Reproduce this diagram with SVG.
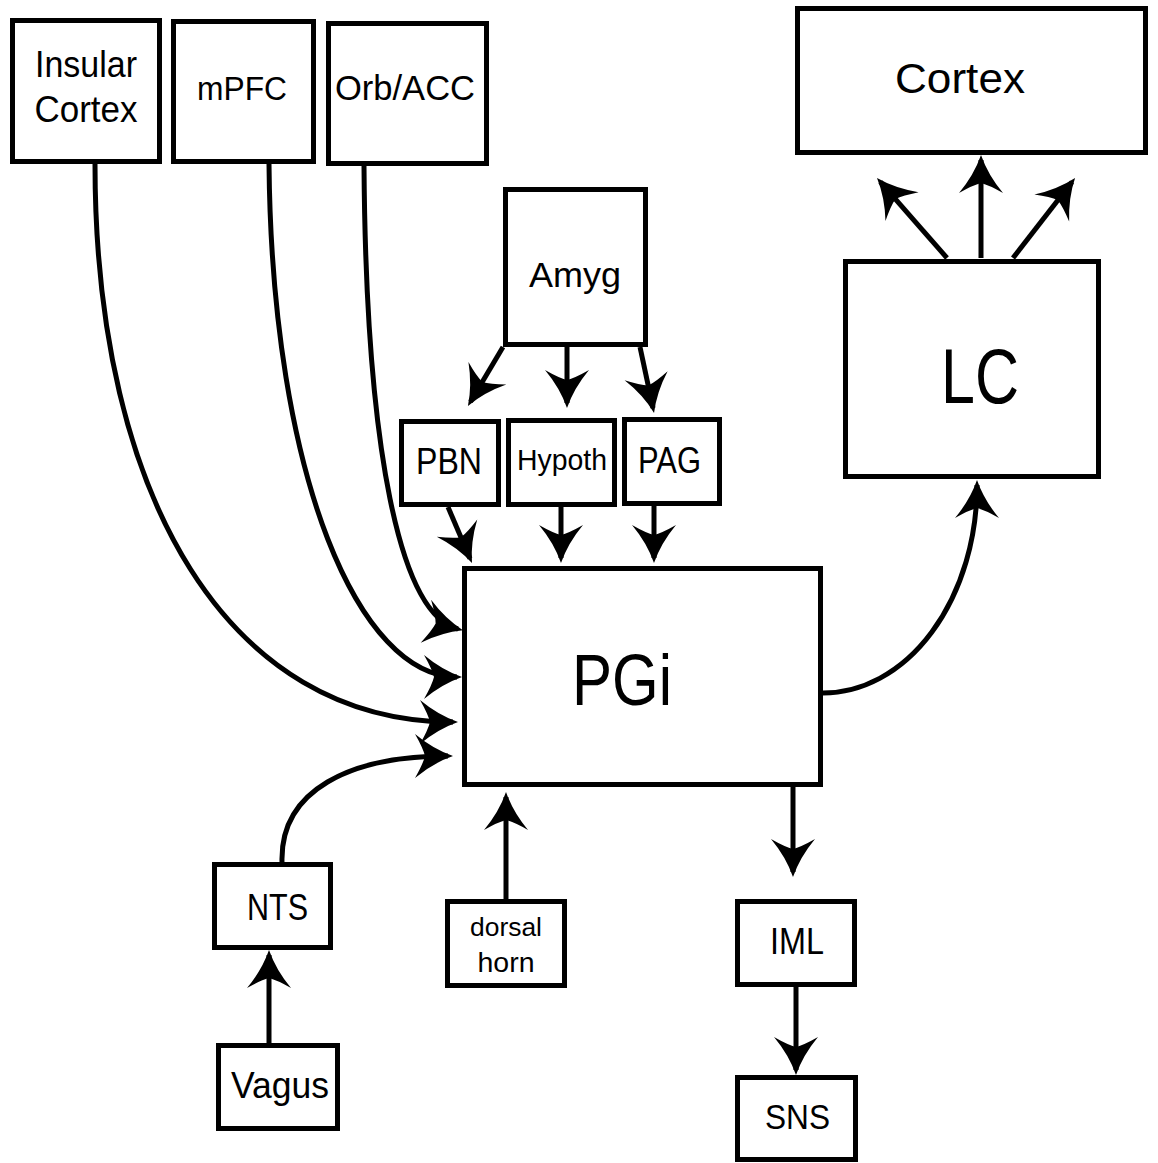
<svg xmlns="http://www.w3.org/2000/svg" width="1158" height="1163" viewBox="0 0 1158 1163">
<style>
.box{fill:#fff;stroke:#000;stroke-width:5}
.lbl{font-family:"Liberation Sans",Arial,sans-serif;fill:#000;text-anchor:middle}
.cn{fill:none;stroke:#000;stroke-width:5;marker-end:url(#ah)}
</style>
<defs>
<marker id="ah" markerUnits="userSpaceOnUse" markerWidth="50" markerHeight="50" viewBox="0 -25 50 50" refX="40" refY="0" orient="auto" overflow="visible">
<path d="M45,0 Q25,-7 7,-22 Q15,-8 17,0 Q15,8 7,22 Q25,7 45,0 Z" fill="#000"/>
</marker>
</defs>
<rect width="1158" height="1163" fill="#fff"/>
<g id="connectors">
<path class="cn" d="M95,164 C95,500 230,722 453,722"/>
<path class="cn" d="M269,164 C272,480 360,677 457,677"/>
<path class="cn" d="M364,166 C366,450 400,615 458,629"/>
<path class="cn" d="M282,862 C280,790 350,756 448,756"/>
<path class="cn" d="M823,693 A154,208 0 0 0 977,485"/>
<path class="cn" d="M503,347 L470.5,401.7"/>
<path class="cn" d="M567,347 L567,403"/>
<path class="cn" d="M640,347 L653,408"/>
<path class="cn" d="M448,507 L470,558.4"/>
<path class="cn" d="M561,507 L561,558"/>
<path class="cn" d="M654,506 L654,558"/>
<path class="cn" d="M981,258 L981,160"/>
<path class="cn" d="M947,258 L880.3,181.8"/>
<path class="cn" d="M1013,258 L1072,182"/>
<path class="cn" d="M506,899 L506,797"/>
<path class="cn" d="M793,787 L793,872"/>
<path class="cn" d="M796,987 L796,1070"/>
<path class="cn" d="M269,1043 L269,955"/>
</g>
<g id="insular"><rect class="box" x="12.5" y="20.5" width="147" height="141"/><text class="lbl" x="86" y="77" font-size="37" textLength="102" lengthAdjust="spacingAndGlyphs">Insular</text><text class="lbl" x="86" y="122" font-size="37" textLength="103" lengthAdjust="spacingAndGlyphs">Cortex</text></g>
<g id="mpfc"><rect class="box" x="173.5" y="21.5" width="140" height="140"/><text class="lbl" x="242" y="100" font-size="33" textLength="90" lengthAdjust="spacingAndGlyphs">mPFC</text></g>
<g id="orbacc"><rect class="box" x="328.5" y="23.5" width="158" height="140"/><text class="lbl" x="405" y="100" font-size="35" textLength="140" lengthAdjust="spacingAndGlyphs">Orb/ACC</text></g>
<g id="cortex"><rect class="box" x="797.5" y="8.5" width="348" height="144"/><text class="lbl" x="960" y="93" font-size="43" textLength="130" lengthAdjust="spacingAndGlyphs">Cortex</text></g>
<g id="amyg"><rect class="box" x="505.5" y="189.5" width="140" height="155"/><text class="lbl" x="575" y="287" font-size="35" textLength="92" lengthAdjust="spacingAndGlyphs">Amyg</text></g>
<g id="lc"><rect class="box" x="845.5" y="261.5" width="253" height="215"/><text class="lbl" x="980" y="403" font-size="77" textLength="78" lengthAdjust="spacingAndGlyphs">LC</text></g>
<g id="pbn"><rect class="box" x="401.5" y="421.5" width="97" height="83"/><text class="lbl" x="449" y="474" font-size="36" textLength="66" lengthAdjust="spacingAndGlyphs">PBN</text></g>
<g id="hypoth"><rect class="box" x="508.5" y="420.5" width="106" height="84"/><text class="lbl" x="562" y="470" font-size="29" textLength="90" lengthAdjust="spacingAndGlyphs">Hypoth</text></g>
<g id="pag"><rect class="box" x="624.5" y="419.5" width="95" height="84"/><text class="lbl" x="669.5" y="473" font-size="36" textLength="63" lengthAdjust="spacingAndGlyphs">PAG</text></g>
<g id="pgi"><rect class="box" x="464.5" y="568.5" width="356" height="216"/><text class="lbl" x="622" y="705" font-size="72" textLength="100" lengthAdjust="spacingAndGlyphs">PGi</text></g>
<g id="nts"><rect class="box" x="214.5" y="864.5" width="116" height="83"/><text class="lbl" x="277.5" y="920" font-size="36" textLength="61" lengthAdjust="spacingAndGlyphs">NTS</text></g>
<g id="dorsalhorn"><rect class="box" x="447.5" y="901.5" width="117" height="84"/><text class="lbl" x="506" y="936" font-size="26" textLength="72" lengthAdjust="spacingAndGlyphs">dorsal</text><text class="lbl" x="506" y="972" font-size="27" textLength="57" lengthAdjust="spacingAndGlyphs">horn</text></g>
<g id="iml"><rect class="box" x="737.5" y="901.5" width="117" height="83"/><text class="lbl" x="797" y="954" font-size="37" textLength="54" lengthAdjust="spacingAndGlyphs">IML</text></g>
<g id="vagus"><rect class="box" x="218.5" y="1045.5" width="119" height="83"/><text class="lbl" x="280" y="1098" font-size="36" textLength="98" lengthAdjust="spacingAndGlyphs">Vagus</text></g>
<g id="sns"><rect class="box" x="737.5" y="1077.5" width="118" height="82"/><text class="lbl" x="797.5" y="1129" font-size="35" textLength="65" lengthAdjust="spacingAndGlyphs">SNS</text></g>
</svg>
